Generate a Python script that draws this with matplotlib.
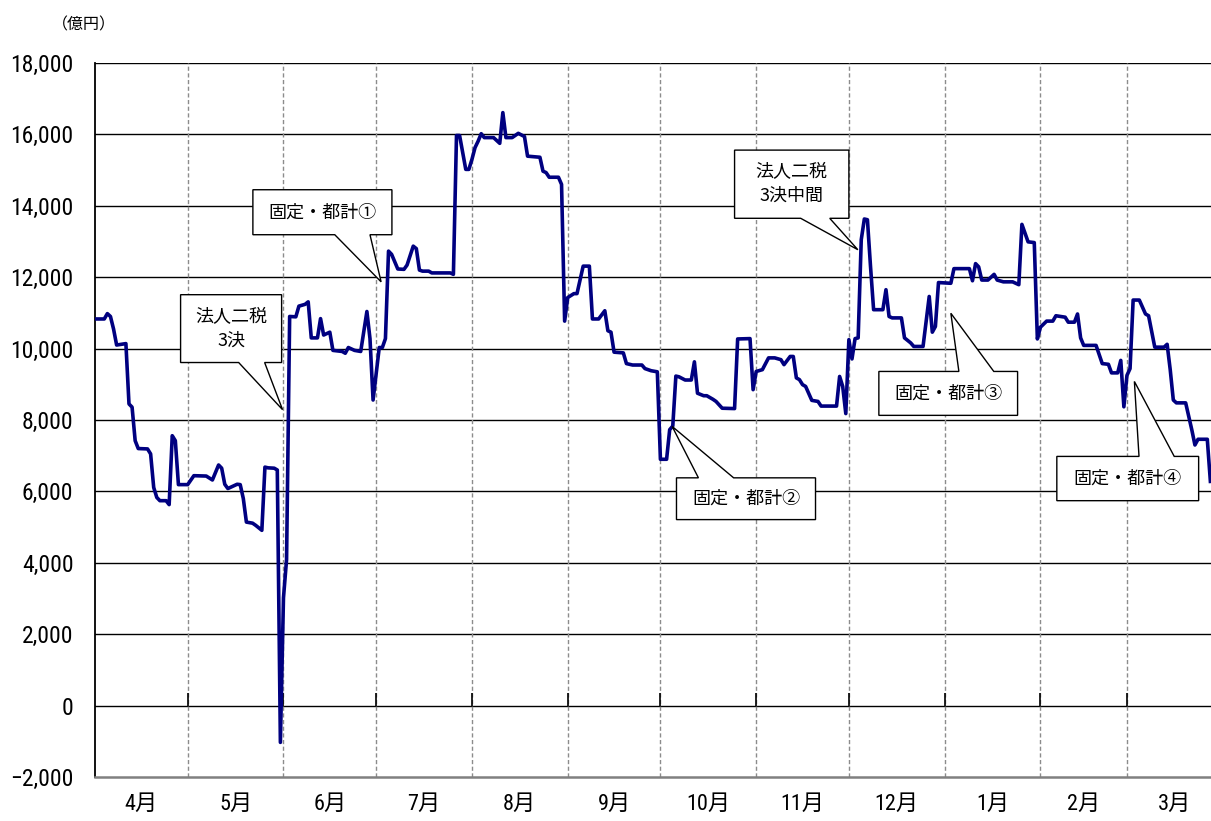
import matplotlib
matplotlib.use("Agg")
import matplotlib.pyplot as plt
from matplotlib.patches import Polygon

plt.rcParams['font.family'] = ['Noto Sans CJK JP', 'DejaVu Sans']

# Day offsets counted from 1 April, and the fund balance (億円) on those days
days = [
    0, 3, 4, 5, 6, 7, 10, 11, 12, 13, 14, 17, 18, 19, 20, 21, 23, 24, 25, 26, 27,
    30, 32, 36, 38, 40, 41, 42, 43, 44, 46, 47, 48, 49, 51, 52, 53, 54, 55, 56, 58, 59, 60,
    61, 62, 63, 65, 66, 68, 69, 70, 72, 73, 74, 76, 77, 80, 81, 82, 84, 86, 88, 89, 90,
    92, 93, 94, 95, 96, 98, 100, 101, 103, 104, 105, 106, 108, 109, 115, 116, 117, 118, 120, 121,
    122, 123, 124, 125, 126, 129, 131, 132, 133, 135, 137, 139, 140, 144, 145, 146, 147, 150, 151, 152,
    153, 155, 156, 158, 160, 161, 163, 165, 166, 167, 168, 171, 172, 174, 177, 178, 180, 182,
    183, 185, 186, 187, 188, 189, 191, 193, 194, 195, 197, 198, 200, 201, 203, 207, 208, 212, 213,
    214, 216, 218, 220, 222, 223, 225, 226, 227, 228, 229, 230, 232, 234, 235, 240, 241, 242, 243,
    244, 245, 246, 247, 248, 249, 250, 251, 252, 255, 256, 257, 258, 261, 262, 264, 265, 268, 270, 271, 272, 273,
    277, 278, 283, 284, 285, 286, 287, 289, 291, 292, 294, 297, 299, 300, 302, 304, 305,
    306, 308, 310, 311, 314, 315, 317, 318, 319, 320, 324, 326, 328, 329, 331, 332, 333,
    334, 335, 336, 338, 340, 341, 343, 346, 347, 348, 349, 350, 353, 355, 356, 357, 360, 361,
]
balance = [
    10830, 10830, 10980, 10900, 10550, 10100, 10140, 8450, 8360, 7420, 7200, 7190, 7050, 6110, 5830, 5740, 5740, 5630, 7560, 7420, 6190,
    6190, 6440, 6430, 6320, 6740, 6650, 6200, 6080, 6120, 6200, 6190, 5800, 5140, 5110, 5050, 4980, 4910, 6680, 6660, 6650, 6600, -1030,
    3020, 4090, 10900, 10890, 11190, 11240, 11310, 10300, 10300, 10840, 10380, 10460, 9950, 9920, 9870, 10030, 9950, 9920, 11040, 10280, 8560,
    10030, 10030, 10280, 12730, 12640, 12230, 12220, 12340, 12870, 12800, 12200, 12170, 12170, 12120, 12120, 12080, 15970, 15970, 15020, 15020,
    15300, 15630, 15810, 16020, 15910, 15910, 15750, 16610, 15910, 15910, 16030, 15940, 15390, 15360, 14970, 14930, 14800, 14800, 14600, 10770,
    11430, 11540, 11540, 12310, 12310, 10830, 10830, 11060, 10500, 10460, 9900, 9880, 9580, 9540, 9540, 9440, 9380, 9350,
    6900, 6900, 7730, 7830, 9230, 9210, 9120, 9120, 9630, 8750, 8680, 8680, 8580, 8520, 8330, 8320, 10270, 10280, 8850,
    9360, 9410, 9740, 9740, 9690, 9550, 9780, 9780, 9180, 9130, 8990, 8940, 8550, 8520, 8390, 8390, 9220, 8940, 8180,
    10250, 9710, 10280, 10300, 13050, 13630, 13610, 12300, 11090, 11090, 11650, 10900, 10860, 10860, 10300, 10160, 10060, 10060, 11460, 10460, 10620, 11850,
    11830, 12240, 12240, 11900, 12380, 12290, 11920, 11920, 12080, 11920, 11870, 11870, 11790, 13480, 12990, 12970, 10270,
    10600, 10770, 10770, 10920, 10880, 10740, 10740, 10970, 10300, 10090, 10090, 9580, 9560, 9320, 9320, 9670, 8370,
    9250, 9440, 11360, 11360, 10970, 10920, 10040, 10040, 10120, 9410, 8560, 8480, 8480, 7720, 7300, 7460, 7460, 6280,
]

month_labels = ['4月', '5月', '6月', '7月', '8月', '9月', '10月', '11月', '12月', '1月', '2月', '3月']
month_starts = [0, 30, 61, 91, 122, 153, 183, 214, 244, 275, 306, 334, 365]
y_ticks = list(range(-2000, 18001, 2000))

# text, box (left, right, bottom, top), pointer base (a, b) on the box edge, pointer tip (day, value)
callouts = [
    ('法人二税\n3決', (27.7, 60.4, 9610, 11510), (46.5, 54.9), (60.7, 8290)),
    ('固定・都計①', (51.1, 96.1, 13190, 14450), (77.6, 89.0), (92.6, 11870)),
    ('法人二税\n3決中間', (207.0, 244.0, 13650, 15560), (228.4, 237.8), (246.9, 12770)),
    ('固定・都計②', (188.2, 233.2, 5210, 6380), (195.3, 206.7), (186.8, 7820)),
    ('固定・都計③', (253.7, 298.6, 8130, 9360), (279.6, 290.9), (277.0, 10990)),
    ('固定・都計④', (311.3, 357.2, 5740, 6980), (337.9, 349.3), (336.4, 9080)),
]

narrow = ['Liberation Sans Narrow', 'Roboto Condensed', 'Roboto', 'DejaVu Sans']

fig = plt.figure(figsize=(12.11, 8.21), dpi=100)
ax = fig.add_axes([95 / 1211, 44 / 821, 1116 / 1211, 714 / 821])
ax.set_xlim(0, 361.2)
ax.set_ylim(-2000, 18000)

# horizontal grid
for yv in y_ticks[1:]:
    ax.axhline(yv, color='black', lw=1.0, zorder=1)

# month boundaries
for b in month_starts[1:12]:
    ax.axvline(b, color='#8c8c8c', lw=1.0, ls=(0, (3, 1.8)), zorder=1)
ax.vlines(month_starts[1:12], 0, 340, color='black', lw=1.2, zorder=2)

ax.plot(days, balance, color='#000080', lw=2.6, zorder=3, solid_joinstyle='round')

# spines
for side in ('top', 'right'):
    ax.spines[side].set_visible(False)
ax.spines['left'].set_color('black')
ax.spines['left'].set_linewidth(1.3)
ax.spines['bottom'].set_color('#808080')
ax.spines['bottom'].set_linewidth(1.8)

ax.set_yticks(y_ticks)
ax.set_yticklabels([f'{v:,}'.replace('-', '−') for v in y_ticks],
                   fontfamily=narrow, fontsize=17)
ax.tick_params(axis='y', length=0, pad=15.5)

mids = [(month_starts[i] + month_starts[i + 1]) / 2 for i in range(12)]
ax.set_xticks(mids)
ax.set_xticklabels(month_labels, fontfamily=['Roboto Condensed', 'Noto Sans CJK JP'], fontsize=16)
ax.tick_params(axis='x', length=0, pad=12.5)

fig.text(84 / 1211, 1 - 25 / 821, '（億円）', ha='center', va='center', fontsize=11.5)

for text, (x0, x1, y0, y1), (xa, xb), (tx, ty) in callouts:
    if ty < y0:
        pts = [(x0, y1), (x1, y1), (x1, y0), (xb, y0), (tx, ty), (xa, y0), (x0, y0)]
    else:
        pts = [(x0, y0), (x1, y0), (x1, y1), (xb, y1), (tx, ty), (xa, y1), (x0, y1)]
    ax.add_patch(Polygon(pts, closed=True, facecolor='white', edgecolor='black',
                         lw=1.0, zorder=5, clip_on=False, joinstyle='miter'))
    ax.text((x0 + x1) / 2, (y0 + y1) / 2, text, ha='center', va='center',
            fontsize=13, linespacing=1.4, zorder=6)

fig.savefig('out.png', dpi=100)
